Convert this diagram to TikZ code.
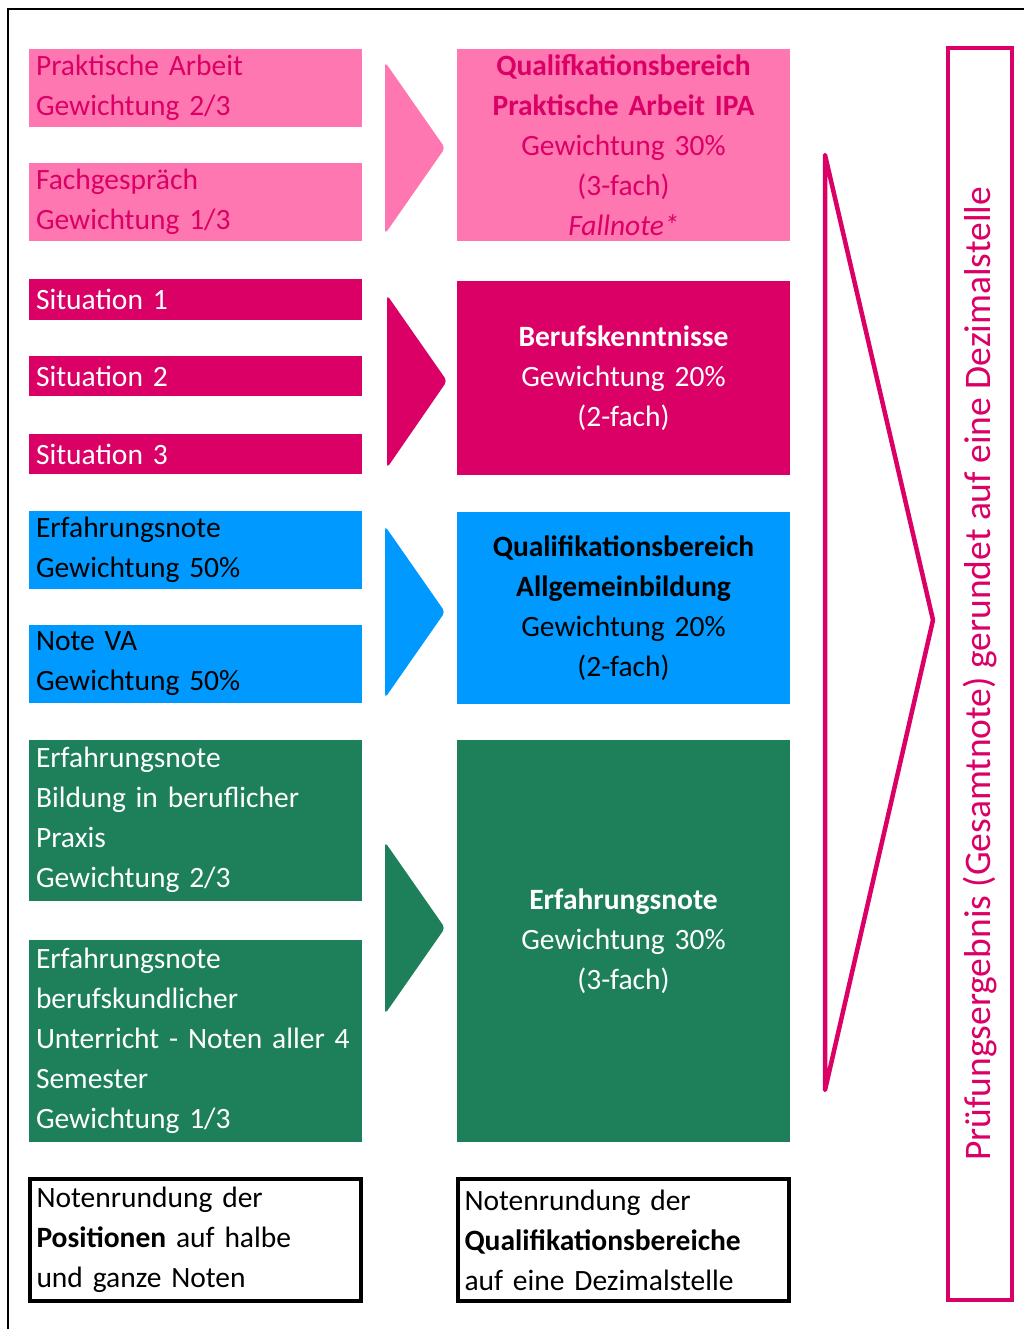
\documentclass[tikz,border=0pt]{standalone}
\usepackage{fontspec}
\setmainfont{Carlito}
\usetikzlibrary{positioning}
\definecolor{rosa}{RGB}{255,119,176}
\definecolor{mag}{RGB}{218,0,102}
\definecolor{himmel}{RGB}{0,153,255}
\definecolor{gruen}{RGB}{30,128,90}

\begin{document}
\begin{tikzpicture}[x=1pt,y=-1pt,
txt/.style={font=\fontsize{29.5}{40}\selectfont},
teil/.style={txt,minimum width=333pt,text width=319pt,inner xsep=7pt,inner ysep=0pt,align=left},
bereich/.style={txt,minimum width=333pt,text width=319pt,inner xsep=7pt,inner ysep=0pt,align=center},
rundung/.style={txt,draw=black,line width=4pt,minimum width=331pt,minimum height=122pt,text width=317pt,inner xsep=7pt,inner ysep=0pt,align=left}]
\useasboundingbox (0,0) rectangle (1024,1329);
\draw[line width=2.5pt] (8,1329) -- (8,9) -- (1024,9);

\node[teil,fill=rosa,text=mag,minimum height=78pt] (pa) at (195.5,88) {Praktische Arbeit\\Gewichtung 2/3};
\node[teil,fill=rosa,text=mag,minimum height=78pt] (fg) at (195.5,202) {Fachgespräch\\Gewichtung 1/3};
\node[teil,fill=mag,text=white,minimum height=40pt] (s1) at (195.5,299.5) {Situation 1};
\node[teil,fill=mag,text=white,minimum height=40pt] (s2) at (195.5,376) {Situation 2};
\node[teil,fill=mag,text=white,minimum height=40pt] (s3) at (195.5,454) {Situation 3};
\node[teil,fill=himmel,text=black,minimum height=78pt] (en) at (195.5,550) {Erfahrungsnote\\Gewichtung 50\%};
\node[teil,fill=himmel,text=black,minimum height=78pt] (va) at (195.5,664) {Note VA\\Gewichtung 50\%};
\node[teil,fill=gruen,text=white,minimum height=161pt] (bp) at (195.5,820) {Erfahrungsnote\\Bildung in beruflicher\\Praxis\\Gewichtung 2/3};
\node[teil,fill=gruen,text=white,minimum height=202pt] (bu) at (195.5,1041) {Erfahrungsnote\\berufskundlicher\\Unterricht - Noten aller 4\\Semester\\Gewichtung 1/3};

\fill[rosa,rounded corners=4pt] (385,62) -- (445,148) -- (385,234) -- cycle;
\fill[mag,rounded corners=4pt] (387,295) -- (447,381) -- (387,468) -- cycle;
\fill[himmel,rounded corners=4pt] (385,526) -- (445,612) -- (385,698) -- cycle;
\fill[gruen,rounded corners=4pt] (385,842) -- (445,928) -- (385,1014) -- cycle;

\node[bereich,fill=rosa,text=mag,minimum height=192pt] (ipa) at (623.5,145) {\textbf{Qualifkationsbereich}\\\textbf{Praktische Arbeit IPA}\\Gewichtung 30\%\\(3-fach)\\\textit{Fallnote*}};
\node[bereich,fill=mag,text=white,minimum height=194pt] (bk) at (623.5,378) {\textbf{Berufskenntnisse}\\Gewichtung 20\%\\(2-fach)};
\node[bereich,fill=himmel,text=black,minimum height=192pt] (ab) at (623.5,608) {\textbf{Qualifikationsbereich}\\\textbf{Allgemeinbildung}\\Gewichtung 20\%\\(2-fach)};
\node[bereich,fill=gruen,text=white,minimum height=402pt] (ef) at (623.5,941) {\textbf{Erfahrungsnote}\\Gewichtung 30\%\\(3-fach)};

\node[rundung] (r1) at (195,1240) {Notenrundung der\\\textbf{Positionen} auf halbe\\und ganze Noten};
\node[rundung] (r2) at (623,1240) {Notenrundung der\\\textbf{Qualifikationsbereiche}\\auf eine Dezimalstelle};

\draw[mag,line width=4.5pt,line join=round] (825,155) -- (933,620) -- (825,1090) -- cycle;

\node[rotate=90,draw=mag,text=mag,line width=4pt,minimum width=1252pt,minimum height=64pt,inner sep=0pt,font=\fontsize{37.5}{44}\selectfont] (ges) at (980,674) {Prüfungsergebnis (Gesamtnote) gerundet auf eine Dezimalstelle};
\end{tikzpicture}
\end{document}
